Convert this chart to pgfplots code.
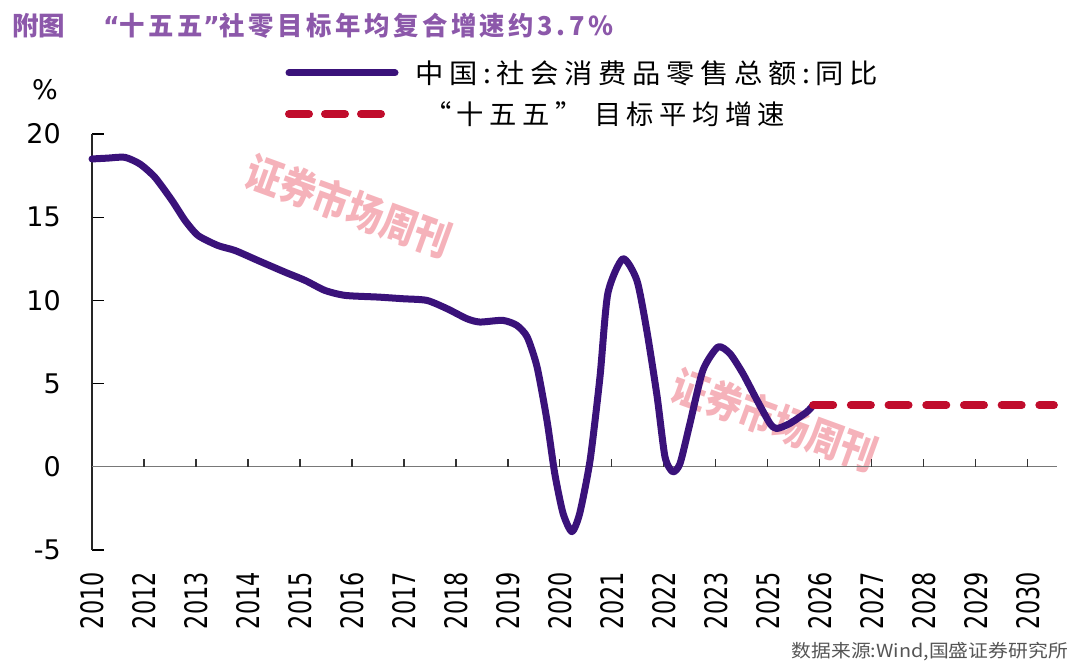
\documentclass[border=0pt]{standalone}
\usepackage{fontspec}
\usepackage{graphicx}
\usepackage{pgfplots}
\pgfplotsset{compat=1.18}
\setmainfont{DejaVu Sans}
\newfontfamily\cjk{Noto Sans CJK SC}
\newfontfamily\cjkt{Noto Sans CJK SC}[LetterSpace=14]
\newfontfamily\qf{DejaVu Sans}
\newfontfamily\cjkls{Noto Sans CJK SC}[LetterSpace=20]
\newfontfamily\xtf{DejaVu Sans}[FakeStretch=0.72]
\definecolor{linepurple}{RGB}{58,18,122}
\definecolor{dashred}{RGB}{192,12,44}
\definecolor{titlepurple}{RGB}{140,88,170}
\definecolor{wmpink}{RGB}{245,178,186}
\definecolor{srcgray}{RGB}{85,85,85}
\definecolor{zerogray}{RGB}{120,120,120}
\begin{document}
\begin{tikzpicture}[x=1pt,y=1pt]
\useasboundingbox (0,0) rectangle (1080,670);
% watermarks
\node[rotate=-20, text=wmpink, inner sep=0] at (349,464) {\resizebox{215pt}{\height}{\fontsize{42}{42}\cjk\bfseries 证券市场周刊}};
\node[rotate=-20, text=wmpink, inner sep=0] at (775,250) {\resizebox{215pt}{\height}{\fontsize{42}{42}\cjk\bfseries 证券市场周刊}};
\begin{axis}[
  at={(92pt,120pt)}, anchor=south west,
  scale only axis, width=965pt, height=416pt,
  xmin=0, xmax=18.56, ymin=-5, ymax=20,
  clip=false,
  axis line style={draw=none},
  tick align=inside,
  ytick pos=left, xtick pos=bottom,
  major tick length=12pt,
  ytick={-5,0,5,10,15,20},
  yticklabels={-5,0,5,10,15,20},
  ytick style={black, line width=1.3pt},
  xtick={0,...,18},
  xticklabels={2010,2012,2013,2014,2015,2016,2017,2018,2019,2020,2021,2022,2023,2025,2026,2027,2028,2029,2030},
  xtick style={draw=none},
  xticklabel style={font=\fontsize{31}{31}\xtf, rotate=90, anchor=east, inner sep=0pt},
  xticklabel shift=22pt,
  yticklabel style={font=\fontsize{27}{27}\selectfont, anchor=east, inner sep=0pt},
  yticklabel shift=31pt,
]
\draw[black!85, line width=1.6pt] (axis cs:0,-5) -- (axis cs:0,20);
\draw[zerogray, line width=1.2pt] (axis cs:0,0) -- (axis cs:18.56,0);
\pgfplotsinvokeforeach{1,...,18}{\draw[black!80, line width=1.1pt] (axis cs:#1,0) -- ++(0pt,8pt);}
\addplot[linepurple, line width=7pt, smooth, tension=0.4, line cap=round, line join=round] coordinates {
(0,18.5) (0.3,18.55) (0.63,18.6) (0.92,18.2) (1.21,17.4) (1.54,16.0) (1.79,14.8) (2.04,13.9)
(2.42,13.3) (2.75,13.0) (3.19,12.4) (3.71,11.7) (4.10,11.2) (4.48,10.6) (4.87,10.3) (5.5,10.2)
(5.98,10.1) (6.44,10.0) (6.83,9.5) (7.21,8.9) (7.46,8.7) (7.90,8.8) (8.17,8.5) (8.37,7.8)
(8.56,6.0) (8.75,2.8) (8.90,-0.4) (9.06,-2.8) (9.23,-3.9) (9.38,-2.8) (9.58,0.4) (9.77,5.4)
(9.92,10.4) (10.21,12.5) (10.48,11.2) (10.67,8.2) (10.87,4.2) (11.02,0.6) (11.17,-0.3) (11.31,0.2)
(11.5,2.6) (11.75,5.8) (12.04,7.2) (12.27,6.8) (12.52,5.6) (12.79,4.0) (13.04,2.6) (13.17,2.3)
(13.42,2.6) (13.75,3.3) (13.87,3.7)
};
\addplot[dashred, line width=8pt, line cap=round, dash pattern=on 20pt off 17.7pt] coordinates {(13.87,3.7) (18.5,3.7)};
\end{axis}
% title
\node[anchor=west, inner sep=0, text=titlepurple] at (12,644) {\resizebox{53pt}{\height}{\fontsize{26}{26}\cjk\bfseries 附图}};
\node[anchor=west, inner sep=0, text=titlepurple] at (103,644) {\resizebox{510pt}{\height}{\fontsize{26}{26}\bfseries{\qf\bfseries “}{\cjkt\bfseries 十五五}{\qf\bfseries ”}{\cjkt\bfseries 社零目标年均复合增速约3.7\%}}};
% legend
\draw[linepurple, line width=7pt, line cap=round] (289,597) -- (395,597);
\draw[dashred, line width=8pt, line cap=round, dash pattern=on 20pt off 16pt] (289,556) -- (381,556);
\node[anchor=west, inner sep=0] at (415,597) {\resizebox{463pt}{\height}{\fontsize{27}{27}\cjkls 中国:社会消费品零售总额:同比}};
\node[anchor=west, inner sep=0] at (424,556) {\resizebox{361pt}{\height}{\fontsize{27}{27}\cjkls “十五五” 目标平均增速}};
% y unit
\node[inner sep=0] at (45,580) {\fontsize{27}{27}\selectfont \%};
% source
\node[anchor=east, inner sep=0, text=srcgray] at (1068,18) {\resizebox{276pt}{\height}{\fontsize{18}{18}\cjk 数据来源:Wind,国盛证券研究所}};
\end{tikzpicture}
\end{document}
